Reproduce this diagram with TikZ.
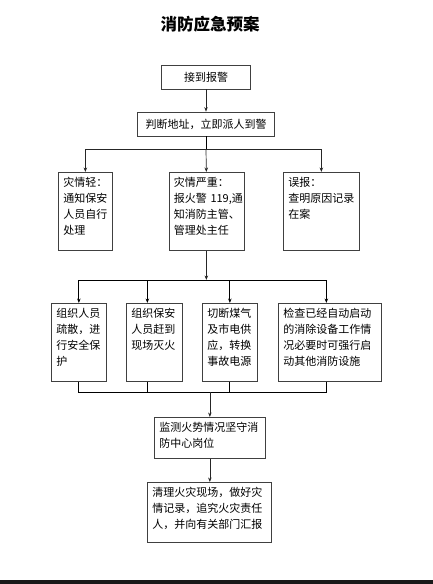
\documentclass[tikz,border=0pt]{standalone}
\usepackage{fontspec}
\setmainfont{Noto Sans CJK SC}
\usetikzlibrary{arrows.meta}

\tikzset{
  head/.style={draw=black!75, line width=0.7pt, minimum height=24pt, inner sep=0pt,
    font=\fontsize{11}{16}\selectfont},
  box/.style={draw=black!75, line width=0.7pt, align=left, anchor=north west,
    inner xsep=5pt, inner ysep=5pt, text height=9pt, text width=#1,
    font=\fontsize{11}{16}\selectfont},
  link/.style={draw=black!85, line width=0.7pt, -{Stealth[length=4.5pt,width=3.5pt]}},
  bus/.style={draw=black, line width=0.8pt}
}

\begin{document}
\begin{tikzpicture}[x=1pt, y=-1pt]

   \useasboundingbox (0,0) rectangle (433,584);

   \node[font=\fontsize{16.5}{20}\selectfont\bfseries] (title) at (210,24) {消防应急预案};

   \node[head, minimum width=89pt] (alarm) at (206,77) {接到报警};
   \node[head, minimum width=137pt] (judge) at (206,124) {判断地址，立即派人到警};

   \node[box=44pt, text depth=59pt] (light) at (58,172) {灾情轻：\\通知保安\\人员自行\\处理};
   \node[box=65pt, text depth=59pt] (serious) at (168.5,172) {灾情严重：\\\mbox{报火警 119,通}\\知消防主管、\\管理处主任};
   \node[box=66pt, text depth=59pt] (false) at (283,172) {误报：\\查明原因记录\\在案};

   \node[box=45pt, text depth=59pt] (evac) at (51,303) {组织人员\\疏散，进\\行安全保\\护};
   \node[box=46pt, text depth=59pt] (fight) at (126,303) {组织保安\\人员赶到\\现场灭火};
   \node[box=45pt, text depth=59pt] (power) at (202,303) {切断煤气\\及市电供\\应，转换\\事故电源};
   \node[box=93pt, text depth=59pt] (check) at (278,303) {检查已经自动启动\\的消除设备工作情\\况必要时可强行启\\动其他消防设施};

   \node[box=101pt, text depth=22pt] (watch) at (154,417) {监测火势情况坚守消\\防中心岗位};
   \node[box=114pt, text depth=41pt] (clean) at (147,482) {清理火灾现场，做好灾\\情记录，追究火灾责任\\人，并向有关部门汇报};

   \draw[link] (alarm) -- (judge);

   \draw[bus] (judge.south) -- (judge.south |- 0,149) coordinate (split1);
   \draw[link] (split1) -| (light.north);
   \draw[link] (split1) -- (serious.north);
   \draw[link] (split1) -| (false.north);

   \draw[link] (serious.south) -- (serious.south |- 0,280);
   \coordinate (split2) at (serious.south |- 0,280);
   \draw[link, bus] (split2) -| (evac.north);
   \draw[link, bus] (split2) -| ([xshift=-7pt]fight.north);
   \draw[link, bus] (split2) -| (power.north);
   \draw[link, bus] (split2) -| ([xshift=-3.5pt]check.north);

   \coordinate (join) at (watch.north |- 0,392);
   \draw[bus] (evac.south) |- (join);
   \draw[bus] ([xshift=-7pt]fight.south) |- (join);
   \draw[bus] (power.south) |- (join);
   \draw[bus] ([xshift=-3.5pt]check.south) |- (join);
   \draw[link] (join) -- (watch.north);

   \draw[link] (watch.south) -- (watch.south |- clean.north);

   \fill[black!90] (0,580) rectangle (433,584);

\end{tikzpicture}
\end{document}
